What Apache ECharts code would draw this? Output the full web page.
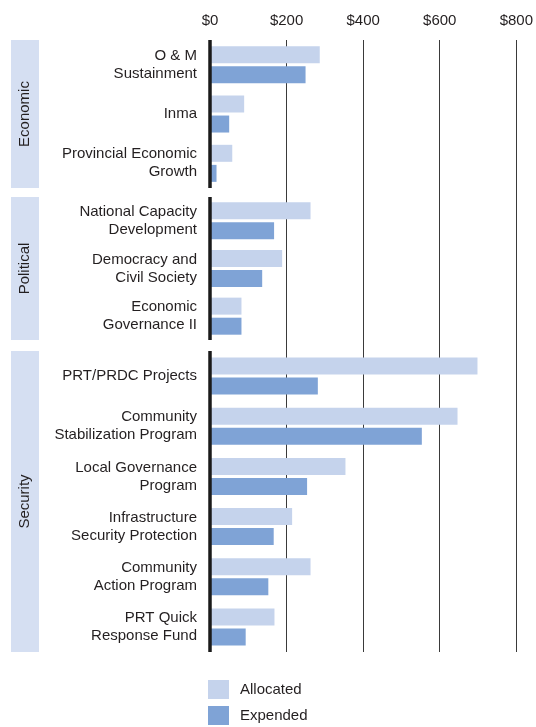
<!DOCTYPE html>
<html>
<head>
<meta charset="utf-8">
<script src="https://cdn.jsdelivr.net/npm/echarts@6/dist/echarts.min.js"></script>
<style>
  html, body { margin: 0; padding: 0; background: #fff; }
  #chart { width: 536px; height: 727px; }
</style>
</head>
<body>
<div id="chart"></div>
<script>
const groupNames = ['Economic', 'Political', 'Security']

const economicCats = ['O & M\nSustainment', 'Inma', 'Provincial Economic\nGrowth']
const economicAllocated = [286, 89, 58]
const economicExpended = [249, 50, 17]

const politicalCats = ['National Capacity\nDevelopment', 'Democracy and\nCivil Society', 'Economic\nGovernance II']
const politicalAllocated = [262, 188, 82]
const politicalExpended = [167, 136, 82]

const securityCats = [
  'PRT/PRDC Projects', 'Community\nStabilization Program', 'Local Governance\nProgram',
  'Infrastructure\nSecurity Protection', 'Community\nAction Program', 'PRT Quick\nResponse Fund'
]
const securityAllocated = [697, 645, 353, 214, 262, 168]
const securityExpended = [281, 552, 253, 166, 152, 93]

const xTicks = [0, 200, 400, 600, 800]

const ALLOC_COLOR = '#c5d3ec'
const EXP_COLOR = '#7fa3d6'
const BAND_COLOR = '#d5dff2'
const TEXT_COLOR = '#231f20'
const FONT = 'Liberation Sans'

// pixel layout of each group panel (top, height)
const panels = [
  { top: 40, height: 148 },
  { top: 197, height: 143 },
  { top: 351, height: 301 }
]
const groups = [
  { cats: economicCats, alloc: economicAllocated, exp: economicExpended },
  { cats: politicalCats, alloc: politicalAllocated, exp: politicalExpended },
  { cats: securityCats, alloc: securityAllocated, exp: securityExpended }
]

const LEFT = 210
const RIGHT = 19

const grid = [{ left: LEFT, right: RIGHT, top: 40, bottom: 75 }]
const xAxis = [{
  gridIndex: 0,
  type: 'value',
  position: 'top',
  min: xTicks[0],
  max: xTicks[xTicks.length - 1],
  interval: 200,
  axisLine: { show: false },
  axisTick: { show: false },
  axisLabel: {
    margin: 12,
    fontSize: 15,
    fontFamily: FONT,
    color: TEXT_COLOR,
    formatter: v => '$' + v
  },
  splitLine: {
    show: true,
    lineStyle: { color: ['rgba(0,0,0,0)', '#3a3a3a', '#3a3a3a', '#3a3a3a', '#3a3a3a'], width: 1 }
  }
}]
const yAxis = [{ gridIndex: 0, type: 'category', data: [''], show: false }]
const series = []
const graphic = []

groups.forEach((g, i) => {
  const gi = i + 1
  const p = panels[i]
  grid.push({ left: LEFT, right: RIGHT, top: p.top, height: p.height })
  xAxis.push({
    gridIndex: gi, type: 'value', min: 0, max: 800, interval: 200, show: false,
    splitLine: { show: false }
  })
  yAxis.push({
    gridIndex: gi,
    type: 'category',
    inverse: true,
    z: 5,
    data: g.cats,
    axisLine: { show: true, lineStyle: { color: '#1a1a1a', width: 3.5, cap: 'butt' } },
    axisTick: { show: false },
    axisLabel: {
      margin: 13,
      fontSize: 15,
      lineHeight: 18,
      fontFamily: FONT,
      color: TEXT_COLOR,
      align: 'right'
    }
  })
  series.push({
    name: 'Allocated', type: 'bar', xAxisIndex: gi, yAxisIndex: gi,
    data: g.alloc, barWidth: 17, barGap: '18%',
    itemStyle: { color: ALLOC_COLOR }, z: 1
  })
  series.push({
    name: 'Expended', type: 'bar', xAxisIndex: gi, yAxisIndex: gi,
    data: g.exp, barWidth: 17, barGap: '18%',
    itemStyle: { color: EXP_COLOR }, z: 1
  })
  graphic.push({
    type: 'rect', left: 11, top: p.top, z: 0,
    shape: { width: 28, height: p.height },
    style: { fill: BAND_COLOR }
  })
  graphic.push({
    type: 'text', x: 25, y: p.top + p.height / 2, rotation: Math.PI / 2, z: 1,
    style: {
      text: groupNames[i], fontSize: 15, fontFamily: FONT, fill: TEXT_COLOR,
      textAlign: 'center', textVerticalAlign: 'middle'
    }
  })
})

const chart = echarts.init(document.getElementById('chart'))
chart.setOption({
  animation: false,
  backgroundColor: '#fff',
  grid,
  xAxis,
  yAxis,
  series,
  graphic,
  legend: {
    data: ['Allocated', 'Expended'],
    orient: 'vertical',
    left: 208,
    top: 680,
    padding: 0,
    itemWidth: 21,
    itemHeight: 19,
    itemGap: 7,
    icon: 'rect',
    textStyle: { fontSize: 15, fontFamily: FONT, color: TEXT_COLOR, padding: [0, 0, 0, 6] }
  }
})
</script>
</body>
</html>
